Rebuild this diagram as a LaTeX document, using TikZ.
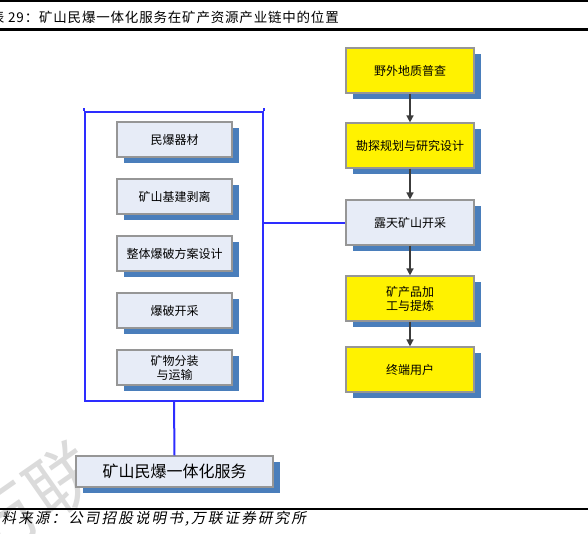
\documentclass[tikz,border=0pt]{standalone}
\usepackage{fontspec}
\setmainfont{Noto Sans CJK SC}
\newfontfamily\titlefont{Noto Sans CJK SC}[LetterSpace=6]
\newfontfamily\srcfont{Noto Sans CJK SC}[FakeSlant=0.2,LetterSpace=15]
\usetikzlibrary{shadows,arrows.meta}
\definecolor{shadowblue}{RGB}{74,126,187}
\definecolor{paleblue}{RGB}{231,236,247}
\definecolor{linkblue}{RGB}{45,45,255}
\definecolor{boxgrey}{RGB}{150,150,150}
\definecolor{pathgrey}{RGB}{60,60,60}

\begin{document}
\begin{tikzpicture}[x=1pt, y=-1pt]
    \tikzstyle{servbox} = [draw=boxgrey, fill=paleblue, line width=1.2pt, minimum width=115pt, minimum height=35pt, inner sep=2pt, align=center, font=\fontsize{12}{14}\selectfont, drop shadow={shadow xshift=7pt, shadow yshift=-6pt, fill=shadowblue, opacity=1}]
    \tikzstyle{chainbox} = [servbox, fill=yellow, minimum width=128pt, minimum height=45pt]
    \tikzstyle{blueline} = [linkblue, line width=2pt]
    \tikzstyle{chainarrow} = [pathgrey, line width=1.5pt, -{Triangle[width=7pt,length=7pt]}]

    \useasboundingbox (0,0) rectangle (588,533);

    % watermark
    \node[gray!28, rotate=35, font=\fontsize{70}{70}\selectfont] (mark) at (33.5,500) {万联};

    % header and footer rules
    \draw[line width=1.5pt] (0,1) -- (588,1);
    \draw[line width=3pt] (0,29.5) -- (588,29.5);
    \draw[line width=2pt] (0,509.3) -- (588,509.3);
    \node[anchor=east, inner sep=0pt, font=\titlefont\fontsize{13.5}{16}\selectfont] (title) at (339,17) {表 29：矿山民爆一体化服务在矿产资源产业链中的位置};
    \node[anchor=east, inner sep=0pt, font=\srcfont\fontsize{14.5}{16}\selectfont] (source) at (306,519) {资料来源：公司招股说明书,万联证券研究所};

    % mining service group
    \node[draw=linkblue, line width=2pt, minimum width=178pt, minimum height=289pt] (group) at (174,256.5) {};
    \draw[blueline] (group.north west) -- ++(0,-3);
    \draw[blueline] (group.north east) -- ++(0,-3);

    \node[servbox] (s1) at (174.5,139.5) {民爆器材};
    \node[servbox] (s2) at (174.5,196.5) {矿山基建剥离};
    \node[servbox] (s3) at (174.5,253.5) {整体爆破方案设计};
    \node[servbox] (s4) at (174.5,310.5) {爆破开采};
    \node[servbox] (s5) at (174.5,367.5) {矿物分装\\与运输};

    \node[servbox, minimum width=197pt, minimum height=31pt, font=\fontsize{16}{18}\selectfont] (service) at (174.5,471.5) {矿山民爆一体化服务};

    % resource chain
    \node[chainbox] (c1) at (410,70.5) {野外地质普查};
    \node[chainbox] (c2) at (410,145.5) {勘探规划与研究设计};
    \node[chainbox, fill=paleblue] (c3) at (410,222.5) {露天矿山开采};
    \node[chainbox] (c4) at (410,298.5) {矿产品加\\工与提炼};
    \node[chainbox] (c5) at (410,369.5) {终端用户};

    \draw[chainarrow] (c1) -- (c2);
    \draw[chainarrow] (c2) -- (c3);
    \draw[chainarrow] (c3) -- (c4);
    \draw[chainarrow] (c4) -- (c5);

    \draw[blueline] (group.south) -- (service.north);
    \draw[blueline] (group.east |- c3.west) -- (c3.west);
\end{tikzpicture}
\end{document}
